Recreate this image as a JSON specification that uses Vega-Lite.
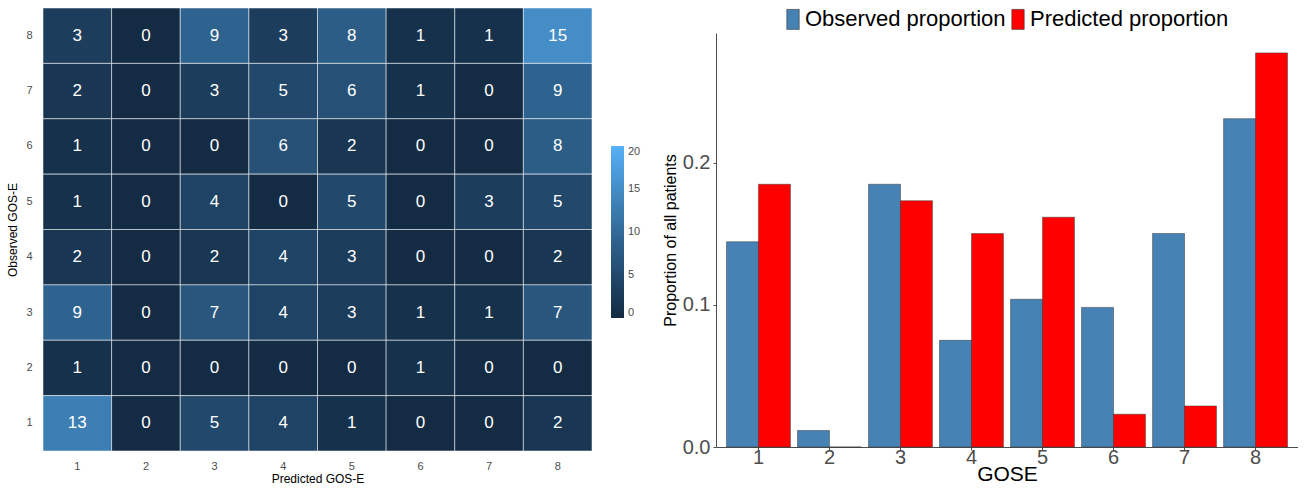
{
  "$schema": "https://vega.github.io/schema/vega-lite/v6.json",
  "background": "white",
  "padding": {"left": 6, "top": 7, "right": 0, "bottom": 0},
  "spacing": 21,
  "config": {
    "font": "Liberation Sans",
    "view": {"stroke": null}
  },
  "datasets": {
    "tiles": [
      {"observed": 8, "predicted": 1, "count": 3}, {"observed": 8, "predicted": 2, "count": 0}, {"observed": 8, "predicted": 3, "count": 9}, {"observed": 8, "predicted": 4, "count": 3},
      {"observed": 8, "predicted": 5, "count": 8}, {"observed": 8, "predicted": 6, "count": 1}, {"observed": 8, "predicted": 7, "count": 1}, {"observed": 8, "predicted": 8, "count": 15},
      {"observed": 7, "predicted": 1, "count": 2}, {"observed": 7, "predicted": 2, "count": 0}, {"observed": 7, "predicted": 3, "count": 3}, {"observed": 7, "predicted": 4, "count": 5},
      {"observed": 7, "predicted": 5, "count": 6}, {"observed": 7, "predicted": 6, "count": 1}, {"observed": 7, "predicted": 7, "count": 0}, {"observed": 7, "predicted": 8, "count": 9},
      {"observed": 6, "predicted": 1, "count": 1}, {"observed": 6, "predicted": 2, "count": 0}, {"observed": 6, "predicted": 3, "count": 0}, {"observed": 6, "predicted": 4, "count": 6},
      {"observed": 6, "predicted": 5, "count": 2}, {"observed": 6, "predicted": 6, "count": 0}, {"observed": 6, "predicted": 7, "count": 0}, {"observed": 6, "predicted": 8, "count": 8},
      {"observed": 5, "predicted": 1, "count": 1}, {"observed": 5, "predicted": 2, "count": 0}, {"observed": 5, "predicted": 3, "count": 4}, {"observed": 5, "predicted": 4, "count": 0},
      {"observed": 5, "predicted": 5, "count": 5}, {"observed": 5, "predicted": 6, "count": 0}, {"observed": 5, "predicted": 7, "count": 3}, {"observed": 5, "predicted": 8, "count": 5},
      {"observed": 4, "predicted": 1, "count": 2}, {"observed": 4, "predicted": 2, "count": 0}, {"observed": 4, "predicted": 3, "count": 2}, {"observed": 4, "predicted": 4, "count": 4},
      {"observed": 4, "predicted": 5, "count": 3}, {"observed": 4, "predicted": 6, "count": 0}, {"observed": 4, "predicted": 7, "count": 0}, {"observed": 4, "predicted": 8, "count": 2},
      {"observed": 3, "predicted": 1, "count": 9}, {"observed": 3, "predicted": 2, "count": 0}, {"observed": 3, "predicted": 3, "count": 7}, {"observed": 3, "predicted": 4, "count": 4},
      {"observed": 3, "predicted": 5, "count": 3}, {"observed": 3, "predicted": 6, "count": 1}, {"observed": 3, "predicted": 7, "count": 1}, {"observed": 3, "predicted": 8, "count": 7},
      {"observed": 2, "predicted": 1, "count": 1}, {"observed": 2, "predicted": 2, "count": 0}, {"observed": 2, "predicted": 3, "count": 0}, {"observed": 2, "predicted": 4, "count": 0},
      {"observed": 2, "predicted": 5, "count": 0}, {"observed": 2, "predicted": 6, "count": 1}, {"observed": 2, "predicted": 7, "count": 0}, {"observed": 2, "predicted": 8, "count": 0},
      {"observed": 1, "predicted": 1, "count": 13}, {"observed": 1, "predicted": 2, "count": 0}, {"observed": 1, "predicted": 3, "count": 5}, {"observed": 1, "predicted": 4, "count": 4},
      {"observed": 1, "predicted": 5, "count": 1}, {"observed": 1, "predicted": 6, "count": 0}, {"observed": 1, "predicted": 7, "count": 0}, {"observed": 1, "predicted": 8, "count": 2}
    ],
    "props": [
      {"gose": 1, "type": "Observed proportion", "proportion": 0.1445}, {"gose": 1, "type": "Predicted proportion", "proportion": 0.1850},
      {"gose": 2, "type": "Observed proportion", "proportion": 0.0116}, {"gose": 2, "type": "Predicted proportion", "proportion": 0.0},
      {"gose": 3, "type": "Observed proportion", "proportion": 0.1850}, {"gose": 3, "type": "Predicted proportion", "proportion": 0.1734},
      {"gose": 4, "type": "Observed proportion", "proportion": 0.0751}, {"gose": 4, "type": "Predicted proportion", "proportion": 0.1503},
      {"gose": 5, "type": "Observed proportion", "proportion": 0.1040}, {"gose": 5, "type": "Predicted proportion", "proportion": 0.1618},
      {"gose": 6, "type": "Observed proportion", "proportion": 0.0983}, {"gose": 6, "type": "Predicted proportion", "proportion": 0.0231},
      {"gose": 7, "type": "Observed proportion", "proportion": 0.1503}, {"gose": 7, "type": "Predicted proportion", "proportion": 0.0289},
      {"gose": 8, "type": "Observed proportion", "proportion": 0.2312}, {"gose": 8, "type": "Predicted proportion", "proportion": 0.2775}
    ]
  },
  "hconcat": [
    {
      "width": 549,
      "height": 443,
      "data": {"name": "tiles"},
      "encoding": {
        "x": {
          "field": "predicted", "type": "ordinal",
          "scale": {"paddingInner": 0, "paddingOuter": 0},
          "axis": {"title": "Predicted GOS-E", "labelAngle": 0, "ticks": false, "domain": false,
                   "labelFontSize": 11, "labelColor": "#4D4D4D", "labelPadding": 9,
                   "titleFontSize": 12, "titleFontWeight": "normal", "titleColor": "black", "titlePadding": 2}
        },
        "y": {
          "field": "observed", "type": "ordinal", "sort": "descending",
          "scale": {"paddingInner": 0, "paddingOuter": 0},
          "axis": {"title": "Observed GOS-E", "ticks": false, "domain": false,
                   "labelFontSize": 11, "labelColor": "#4D4D4D", "labelPadding": 11,
                   "titleFontSize": 12, "titleFontWeight": "normal", "titleColor": "black", "titlePadding": 6}
        }
      },
      "layer": [
        {
          "mark": {"type": "rect", "stroke": "white", "strokeOpacity": 0.5, "strokeWidth": 1},
          "encoding": {
            "color": {
              "field": "count", "type": "quantitative",
              "scale": {"domain": [0, 20], "range": ["#132B43", "#56B1F7"], "interpolate": "lab"},
              "legend": {"title": null, "orient": "none", "legendX": 568, "legendY": 138,
                         "direction": "vertical", "gradientLength": 172, "gradientThickness": 13,
                         "gradientStrokeWidth": 0, "values": [0, 5, 10, 15, 20],
                         "labelFontSize": 11, "labelColor": "#4D4D4D", "labelOffset": 4}
            }
          }
        },
        {
          "mark": {"type": "text", "color": "white", "fontSize": 17},
          "encoding": {"text": {"field": "count", "type": "quantitative"}}
        }
      ]
    },
    {
      "width": 582,
      "height": 443,
      "data": {"name": "props"},
      "mark": {"type": "bar", "stroke": "#333333", "strokeWidth": 0.6, "strokeOpacity": 0.8},
      "encoding": {
        "x": {
          "field": "gose", "type": "ordinal",
          "scale": {"paddingInner": 0.1, "paddingOuter": 0.148},
          "axis": {"title": "GOSE", "labelAngle": 0, "labelFontSize": 20, "labelColor": "#4D4D4D", "offset": -4,
                   "domainColor": "#4D4D4D", "ticks": true, "tickSize": 3, "tickColor": "#4D4D4D", "labelPadding": -3,
                   "titleFontSize": 21, "titleFontWeight": "normal", "titleColor": "black", "titlePadding": -4}
        },
        "xOffset": {"field": "type", "type": "nominal", "sort": ["Observed proportion", "Predicted proportion"]},
        "y": {
          "field": "proportion", "type": "quantitative",
          "scale": {"domain": [0, 0.2915], "range": [439, 25], "nice": false, "zero": true},
          "axis": {"title": "Proportion of all patients", "values": [0, 0.1, 0.2], "format": ".1f", "grid": false,
                   "labelFontSize": 20, "labelColor": "#4D4D4D", "domainColor": "#4D4D4D",
                   "tickSize": 3, "tickColor": "#4D4D4D", "labelPadding": 3,
                   "titleFontSize": 16, "titleFontWeight": "normal", "titleColor": "black", "titlePadding": 4}
        },
        "color": {
          "field": "type", "type": "nominal",
          "scale": {"domain": ["Observed proportion", "Predicted proportion"], "range": ["#4682B4", "#FF0000"]},
          "legend": {"title": null, "orient": "none", "direction": "horizontal", "legendX": 66, "legendY": 0,
                     "symbolType": "M-0.62,-1H0.62V1H-0.62Z", "symbolSize": 400,
                     "symbolStrokeColor": "#333333", "symbolStrokeWidth": 0.6, "symbolOpacity": 1,
                     "labelFontSize": 22, "labelColor": "black", "labelOffset": 1, "labelLimit": 400,
                     "columnPadding": 1}
        }
      }
    }
  ]
}
